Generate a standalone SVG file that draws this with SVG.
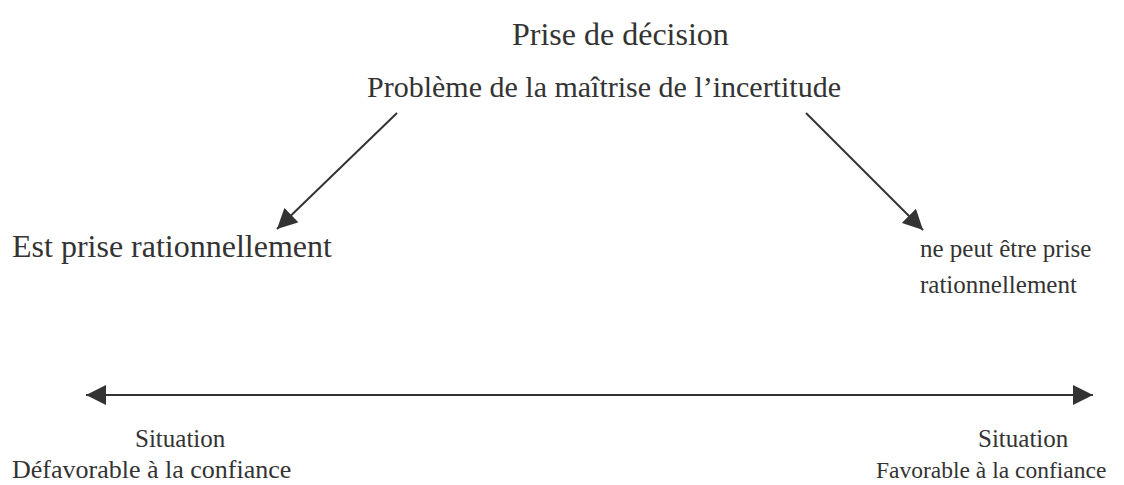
<svg xmlns="http://www.w3.org/2000/svg" width="1124" height="485" viewBox="0 0 1124 485">
<style>
text{font-family:"Liberation Serif","Times New Roman",serif;font-size:25px;fill:#333;}
.big{font-size:32px;}
.mid{font-size:30px;}
.c{stroke:#333;stroke-width:2;fill:none;}
</style>
<defs>
<marker id="ah" viewBox="0 0 20 20" refX="20" refY="10" markerWidth="20" markerHeight="20" markerUnits="userSpaceOnUse" orient="auto-start-reverse">
<path d="M0,0 L20,10 L0,20 Z" fill="#333"/>
</marker>
</defs>
<rect width="1124" height="485" fill="#fff"/>
<g id="connectors">
<line class="c" x1="397" y1="113" x2="277" y2="229" marker-end="url(#ah)"/>
<line class="c" x1="806" y1="113" x2="923" y2="230" marker-end="url(#ah)"/>
<line class="c" x1="86" y1="395" x2="1093" y2="395" marker-start="url(#ah)" marker-end="url(#ah)"/>
</g>
<g id="title"><text class="big" x="512" y="45">Prise de décision</text></g>
<g id="probleme"><text class="mid" x="367" y="97">Problème de la maîtrise de l’incertitude</text></g>
<g id="rationnel"><text class="big" x="12" y="257">Est prise rationnellement</text></g>
<g id="nonrationnel"><text x="920" y="257">ne peut être prise</text><text x="920" y="293">rationnellement</text></g>
<g id="defavorable"><text x="135" y="447">Situation</text><text x="12" y="478" style="font-size:26px">Défavorable à la confiance</text></g>
<g id="favorable"><text x="978" y="447">Situation</text><text x="876" y="478" style="font-size:23.5px">Favorable à la confiance</text></g>
</svg>
